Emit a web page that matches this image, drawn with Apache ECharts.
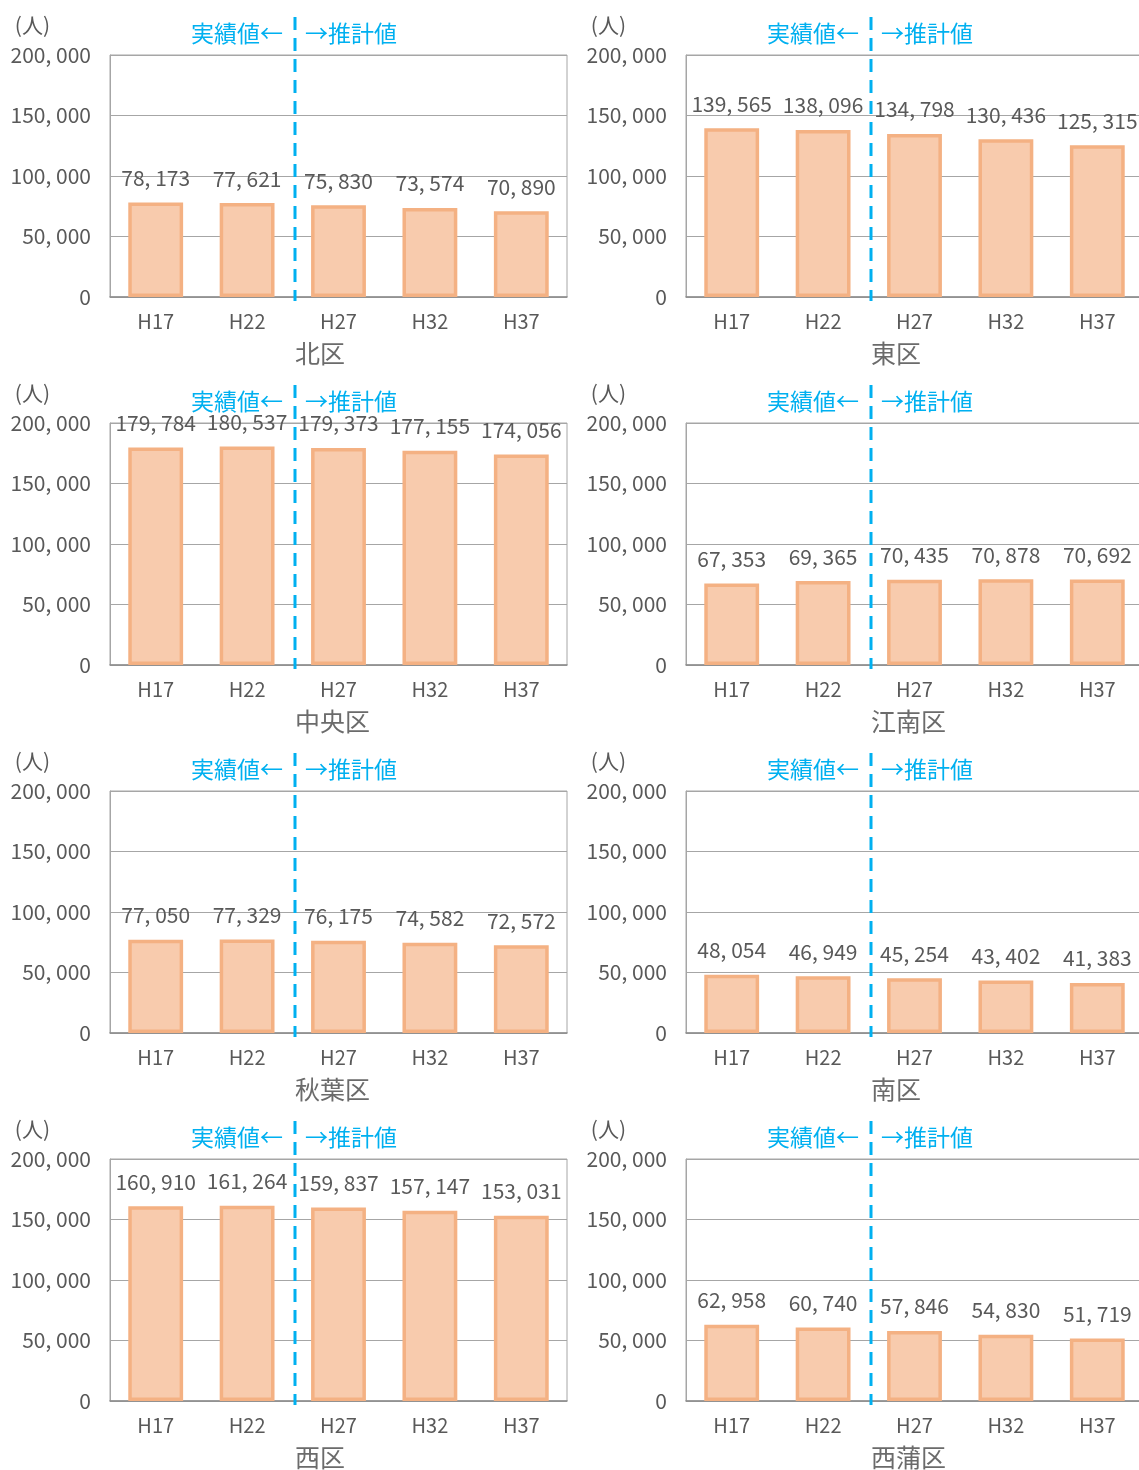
<!DOCTYPE html>
<html>
<head>
<meta charset="utf-8">
<script src="https://cdn.jsdelivr.net/npm/echarts@6/dist/echarts.min.js"></script>
<style>
  html, body { margin: 0; padding: 0; background: #fff; }
  #main { width: 1139px; height: 1470px; }
</style>
</head>
<body>
<div id="main"></div>
<script>
// 年次
const years = ['H17', 'H22', 'H27', 'H32', 'H37']
const yTicks = [0, 50000, 100000, 150000, 200000]

// 区ごとの人口
const kita = [78173, 77621, 75830, 73574, 70890]
const higashi = [139565, 138096, 134798, 130436, 125315]
const chuo = [179784, 180537, 179373, 177155, 174056]
const konan = [67353, 69365, 70435, 70878, 70692]
const akiha = [77050, 77329, 76175, 74582, 72572]
const minami = [48054, 46949, 45254, 43402, 41383]
const nishi = [160910, 161264, 159837, 157147, 153031]
const nishikan = [62958, 60740, 57846, 54830, 51719]

const wards = ['北区', '東区', '中央区', '江南区', '秋葉区', '南区', '西区', '西蒲区']
const values = [kita, higashi, chuo, konan, akiha, minami, nishi, nishikan]

const FONT = '"Noto Sans CJK JP", "Noto Sans", sans-serif'
const GRAY = '#595959'
const BLUE = '#00B0F0'

const fmt = v => String(v).replace(/\B(?=(\d{3})+(?!\d))/g, ', ')

const chart = echarts.init(document.getElementById('main'))

const grids = [], xAxes = [], yAxes = [], series = []
wards.forEach((w, i) => {
  const col = i % 2
  const row = Math.floor(i / 2)
  grids.push({
    left: col === 0 ? 110 : 686,
    width: 457,
    top: 55 + row * 368,
    height: 242,
    show: true,
    borderColor: '#a6a6a6',
    borderWidth: 1,
    containLabel: false,
    outerBoundsMode: 'none'
  })
  xAxes.push({
    type: 'category',
    gridIndex: i,
    data: years,
    axisTick: { show: false },
    axisLine: { lineStyle: { color: '#8c8c8c', width: 1.5 } },
    axisLabel: { color: GRAY, fontFamily: FONT, fontSize: 20, margin: 14 }
  })
  yAxes.push({
    type: 'value',
    gridIndex: i,
    min: yTicks[0],
    max: yTicks[yTicks.length - 1],
    interval: yTicks[1] - yTicks[0],
    name: '(人)',
    nameLocation: 'end',
    nameGap: 19,
    nameTextStyle: { color: GRAY, fontFamily: FONT, fontSize: 21, align: 'right', padding: [0, 60, 0, 0] },
    axisLine: { show: true, lineStyle: { color: '#a6a6a6' } },
    axisTick: { show: false },
    splitLine: { lineStyle: { color: '#a6a6a6' } },
    axisLabel: { color: GRAY, fontFamily: FONT, fontSize: 21, margin: 19, formatter: fmt }
  })
  series.push({
    type: 'bar',
    name: w,
    xAxisIndex: i,
    yAxisIndex: i,
    data: values[i],
    barWidth: '60%',
    itemStyle: { color: '#F8CBAD', borderColor: '#F4B183', borderWidth: 3.5 },
    label: {
      show: true,
      position: 'top',
      distance: 14,
      color: GRAY,
      fontFamily: FONT,
      fontSize: 21,
      formatter: p => fmt(p.value)
    }
  })
})

chart.setOption({
  animation: false,
  grid: grids,
  xAxis: xAxes,
  yAxis: yAxes,
  series: series
})

// 実績値／推計値の境界線と区名
const graphics = []
wards.forEach((w, i) => {
  const xa = chart.convertToPixel({ xAxisIndex: i }, years[1])
  const xb = chart.convertToPixel({ xAxisIndex: i }, years[2])
  const x = Math.round((xa + xb) / 2) + 2
  const yTop = chart.convertToPixel({ yAxisIndex: i }, yTicks[yTicks.length - 1])
  const yBot = chart.convertToPixel({ yAxisIndex: i }, yTicks[0])
  graphics.push({
    type: 'line',
    shape: { x1: x, y1: yTop - 38, x2: x, y2: yBot + 4 },
    style: { stroke: BLUE, lineWidth: 3, lineDash: [13, 8] },
    z: 100
  })
  graphics.push({
    type: 'text',
    x: x - 12, y: yTop - 22,
    style: { text: '実績値←', fill: BLUE, font: '23px ' + FONT, align: 'right', verticalAlign: 'middle' },
    z: 100
  })
  graphics.push({
    type: 'text',
    x: x + 10, y: yTop - 22,
    style: { text: '→推計値', fill: BLUE, font: '23px ' + FONT, align: 'left', verticalAlign: 'middle' },
    z: 100
  })
  graphics.push({
    type: 'text',
    x: x, y: yBot + 56,
    style: { text: w, fill: '#6b6b6b', font: '25px ' + FONT, align: 'left', verticalAlign: 'middle' },
    z: 100
  })
})
chart.setOption({ graphic: graphics })
</script>
</body>
</html>
